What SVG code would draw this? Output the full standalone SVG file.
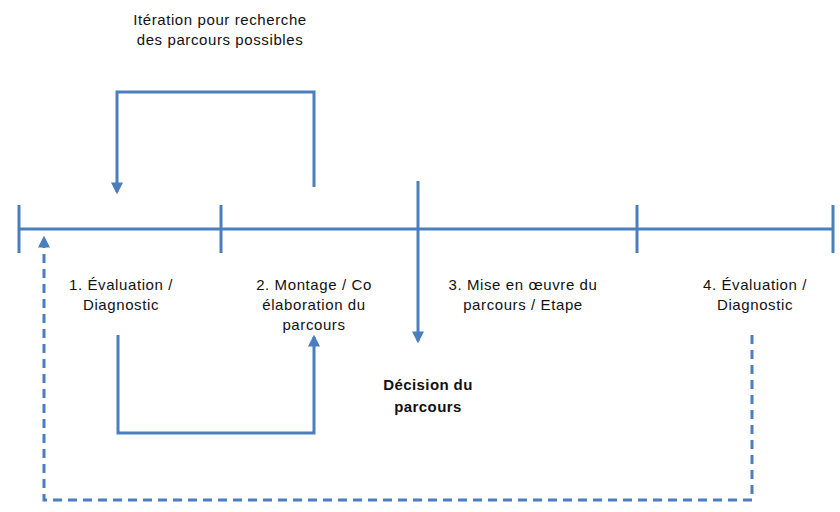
<svg xmlns="http://www.w3.org/2000/svg" width="840" height="512" viewBox="0 0 840 512">
<defs>
<style>
.ln{fill:none;stroke:#4a7ebf;stroke-width:3}
.dash{fill:none;stroke:#4a7ebf;stroke-width:3;stroke-dasharray:9 6}
.t{font-family:"Liberation Sans",Arial,sans-serif;font-size:15px;letter-spacing:0.6px;fill:#111;text-anchor:middle}
.b{font-family:"Liberation Sans",Arial,sans-serif;font-size:15px;letter-spacing:0.4px;font-weight:bold;fill:#111;text-anchor:middle}
</style>
<marker id="ah" viewBox="0 0 10 10" refX="8" refY="5" markerWidth="4" markerHeight="4" orient="auto-start-reverse">
<path d="M0,0 L10,5 L0,10 z" fill="#4a7ebf"/>
</marker>
</defs>
<g id="timeline">
<line class="ln" x1="19" y1="229" x2="833" y2="229"/>
<line class="ln" x1="19" y1="205" x2="19" y2="253"/>
<line class="ln" x1="221" y1="205" x2="221" y2="253"/>
<line class="ln" x1="637" y1="205" x2="637" y2="253"/>
<line class="ln" x1="833" y1="205" x2="833" y2="253"/>
</g>
<g id="connectors">
<path class="ln" d="M314,187 V92 H117 V192" marker-end="url(#ah)"/>
<path class="ln" d="M118,335 V433 H314 V337" marker-end="url(#ah)"/>
<path class="ln" d="M418,181 V341" marker-end="url(#ah)"/>
<path class="dash" d="M752,335 V500 H44 V238" marker-end="url(#ah)"/>
</g>
<g id="iteration">
<text class="t" x="220" y="25">Itération pour recherche</text>
<text class="t" x="220" y="45">des parcours possibles</text>
</g>
<g id="step1">
<text class="t" x="121" y="290">1. Évaluation /</text>
<text class="t" x="121" y="310">Diagnostic</text>
</g>
<g id="step2">
<text class="t" x="314" y="290">2. Montage / Co</text>
<text class="t" x="314" y="310">élaboration du</text>
<text class="t" x="314" y="330">parcours</text>
</g>
<g id="step3">
<text class="t" x="523" y="290">3. Mise en œuvre du</text>
<text class="t" x="523" y="310">parcours / Etape</text>
</g>
<g id="step4">
<text class="t" x="755" y="290">4. Évaluation /</text>
<text class="t" x="755" y="310">Diagnostic</text>
</g>
<g id="decision">
<text class="b" x="428" y="390">Décision du</text>
<text class="b" x="428" y="412">parcours</text>
</g>
</svg>
